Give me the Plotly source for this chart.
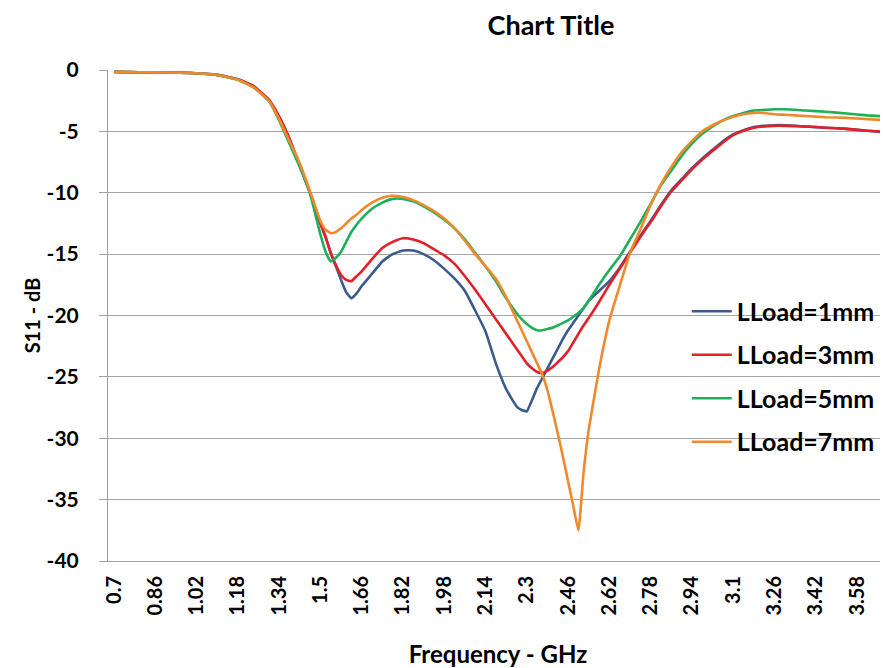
import plotly.graph_objects as go

# Frequency samples (GHz)
freq = [0.70, 0.80, 0.90, 1.00, 1.10, 1.18, 1.24, 1.30, 1.34, 1.38,
        1.42, 1.46, 1.50, 1.52, 1.54, 1.56, 1.58, 1.60, 1.62, 1.64,
        1.66, 1.70, 1.74, 1.78, 1.82, 1.86, 1.90, 1.94, 1.98, 2.02,
        2.06, 2.10, 2.14, 2.18, 2.22, 2.26, 2.28, 2.30, 2.32, 2.34,
        2.36, 2.38, 2.40, 2.42, 2.44, 2.46, 2.48, 2.50, 2.52, 2.54,
        2.58, 2.62, 2.66, 2.70, 2.74, 2.78, 2.82, 2.86, 2.90, 2.94,
        2.98, 3.02, 3.06, 3.10, 3.14, 3.18, 3.22, 3.26, 3.30, 3.38,
        3.46, 3.54, 3.62, 3.70]

s11_1mm = [-0.15, -0.18, -0.2, -0.25, -0.4, -0.75, -1.3, -2.5, -3.8, -5.6,
           -7.8, -10.0, -12.5, -13.6, -14.9, -16.0, -17.1, -18.1, -18.6, -18.2,
           -17.6, -16.6, -15.6, -15.0, -14.7, -14.7, -15.0, -15.5, -16.2, -17.0,
           -18.0, -19.6, -21.3, -23.9, -26.0, -27.4, -27.7, -27.8, -26.9, -25.9,
           -25.1, -24.3, -23.5, -22.7, -21.9, -21.2, -20.6, -20.0, -19.4, -18.8,
           -18.0, -17.2, -16.1, -14.8, -13.5, -12.3, -11.0, -9.8, -8.9, -8.0,
           -7.2, -6.5, -5.8, -5.25, -4.9, -4.65, -4.55, -4.5, -4.5, -4.6,
           -4.7, -4.8, -4.95, -5.1]

s11_3mm = [-0.15, -0.18, -0.2, -0.25, -0.4, -0.75, -1.3, -2.4, -3.8, -5.6,
           -7.8, -10.0, -12.5, -13.6, -14.9, -15.9, -16.7, -17.1, -17.2, -16.8,
           -16.4, -15.4, -14.5, -14.0, -13.7, -13.8, -14.1, -14.6, -15.1, -15.8,
           -16.8, -17.9, -19.1, -20.3, -21.5, -22.7, -23.3, -23.9, -24.3, -24.6,
           -24.7, -24.5, -24.2, -23.8, -23.4, -22.9, -22.2, -21.5, -20.8, -20.2,
           -18.9, -17.5, -16.2, -14.9, -13.6, -12.4, -11.1, -9.9, -9.0, -8.1,
           -7.3, -6.6, -5.9, -5.3, -4.95, -4.7, -4.6, -4.55, -4.55, -4.6,
           -4.7, -4.8, -4.95, -5.05]

s11_5mm = [-0.15, -0.18, -0.2, -0.25, -0.4, -0.8, -1.4, -2.5, -4.1, -6.0,
           -7.9, -10.1, -13.4, -14.8, -15.6, -15.3, -14.8, -14.0, -13.2, -12.6,
           -12.1, -11.3, -10.8, -10.5, -10.5, -10.7, -11.1, -11.6, -12.2, -12.9,
           -13.8, -14.9, -16.0, -17.2, -18.6, -19.8, -20.3, -20.7, -21.0, -21.2,
           -21.2, -21.1, -21.0, -20.8, -20.6, -20.4, -20.1, -19.8, -19.4, -18.8,
           -17.5, -16.3, -15.2, -13.8, -12.4, -10.9, -9.4, -8.2, -7.0, -6.0,
           -5.2, -4.6, -4.1, -3.75, -3.5, -3.3, -3.25, -3.2, -3.2, -3.3,
           -3.4, -3.55, -3.7, -3.8]

s11_7mm = [-0.15, -0.18, -0.2, -0.25, -0.4, -0.8, -1.4, -2.5, -4.0, -5.8,
           -7.6, -9.9, -12.3, -13.0, -13.3, -13.2, -12.9, -12.5, -12.1, -11.8,
           -11.4, -10.8, -10.4, -10.25, -10.35, -10.6, -11.0, -11.5, -12.1, -12.9,
           -13.9, -15.0, -16.0, -17.0, -18.5, -20.3, -21.2, -22.1, -23.0, -23.9,
           -24.8, -26.1, -27.8, -29.6, -31.5, -33.5, -35.5, -37.5, -32.8, -29.3,
           -24.4, -20.4, -17.6, -14.9, -13.0, -11.0, -9.3, -7.9, -6.7, -5.8,
           -5.0, -4.5, -4.1, -3.8, -3.6, -3.5, -3.5, -3.6, -3.65, -3.75,
           -3.85, -3.9, -4.0, -4.1]

series_names = ["LLoad=1mm", "LLoad=3mm", "LLoad=5mm", "LLoad=7mm"]
series_colors = ["#3B5B8C", "#E3202A", "#1FAE5A", "#EE8A2D"]

x_tick_labels = ["0.7", "0.86", "1.02", "1.18", "1.34", "1.5", "1.66", "1.82",
                 "1.98", "2.14", "2.3", "2.46", "2.62", "2.78", "2.94", "3.1",
                 "3.26", "3.42", "3.58"]
y_tick_vals = [0, -5, -10, -15, -20, -25, -30, -35, -40]

FONT = "Lato"

fig = go.Figure()
for name, vals, col in zip(series_names, [s11_1mm, s11_3mm, s11_5mm, s11_7mm], series_colors):
    fig.add_trace(go.Scatter(
        x=freq, y=vals, mode="lines", name="<b>%s</b>" % name, legendgroup=name,
        line=dict(color=col, width=2.6, shape="spline", smoothing=0.4),
    ))

# page body has an 8px default margin, so the figure is 880x660
fig.update_layout(
    width=880, height=660,
    paper_bgcolor="white", plot_bgcolor="white",
    margin=dict(l=100, r=0, t=62, b=107),
    font=dict(family=FONT, color="#000000"),
    title=dict(text="<b>Chart Title</b>", x=0.617, xanchor="center",
               y=0.973, yanchor="middle", font=dict(size=27, family=FONT)),
    legend=dict(x=0.742, xanchor="left", y=0.555, yanchor="top",
                bgcolor="rgba(0,0,0,0)", font=dict(size=25, family=FONT),
                tracegroupgap=8, itemwidth=40),
    showlegend=True,
)

fig.update_xaxes(
    range=[0.6767, 3.70], automargin=False,
    tickvals=[float(t) for t in x_tick_labels], ticktext=["<b>%s</b>" % t for t in x_tick_labels],
    tickangle=-90, tickfont=dict(size=20, family=FONT),
    showgrid=False, zeroline=False,
    showline=True, linecolor="#A0A0A0", linewidth=1,
    ticks="", ticklabelstandoff=6,
    title=dict(text="<b>Frequency - GHz</b>", font=dict(size=24, family=FONT), standoff=32),
)
fig.update_yaxes(
    range=[-40, 0], automargin=False,
    tickvals=y_tick_vals, ticktext=["<b>%d</b>" % v for v in y_tick_vals],
    tickfont=dict(size=21, family=FONT),
    showgrid=True, gridcolor="#A6A6A6", gridwidth=1,
    zeroline=False,
    showline=True, linecolor="#A0A0A0", linewidth=1,
    ticks="outside", ticklen=8, tickcolor="#A0A0A0",
    ticklabelstandoff=16,
    title=dict(text="<b>S11 - dB</b>", font=dict(size=20, family=FONT), standoff=0),
)

fig.write_html("out.html")
